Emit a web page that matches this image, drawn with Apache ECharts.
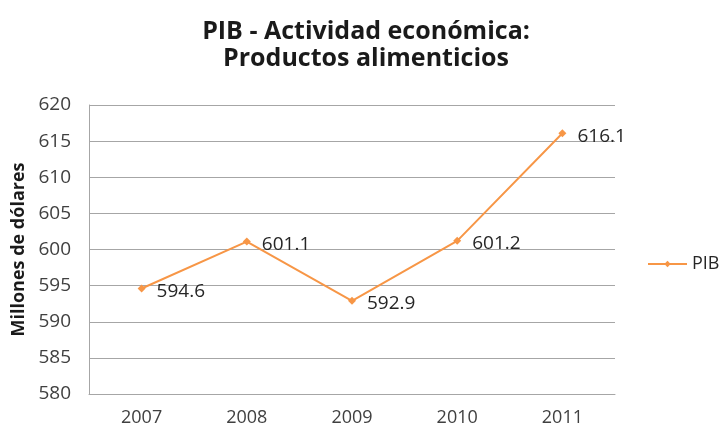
<!DOCTYPE html>
<html><head><meta charset="utf-8">
<script src="https://cdn.jsdelivr.net/npm/echarts@6/dist/echarts.min.js"></script>
<style>html,body{margin:0;padding:0;background:#fff}#c{width:721px;height:429px}</style>
</head><body><div id="c"></div>
<script>
const categories = ['2007','2008','2009','2010','2011'];
const pib = [594.6, 601.1, 592.9, 601.2, 616.1];
const chart = echarts.init(document.getElementById('c'));
chart.setOption({
  animation: false,
  title: {
    text: 'PIB - Actividad económica:\nProductos alimenticios',
    left: 361, top: 13, textAlign: 'center',
    textStyle: {fontFamily: 'Open Sans', fontWeight: 'bold', fontSize: 25, lineHeight: 27, color: '#1a1a1a'}
  },
  legend: {
    data: ['PIB'], left: 647, top: 255, padding: 0, itemWidth: 39, itemHeight: 8, itemGap: 4,
    textStyle: {fontFamily: 'Open Sans', fontSize: 18, color: '#262626'}
  },
  grid: {left: 89, right: 106, top: 105, bottom: 35, containLabel: false},
  xAxis: {
    type: 'category', data: categories, boundaryGap: true,
    axisLine: {lineStyle: {color: '#a6a6a6'}},
    axisTick: {show: false},
    axisLabel: {fontFamily: 'Open Sans', fontSize: 18, color: '#404040', margin: 15}
  },
  yAxis: {
    type: 'value', min: 580, max: 620, interval: 5,
    name: 'Millones de dólares', nameLocation: 'middle', nameGap: 60, nameRotate: 90,
    nameTextStyle: {fontFamily: 'Open Sans', fontWeight: 'bold', fontSize: 18, color: '#1a1a1a'},
    axisLine: {show: true, lineStyle: {color: '#a6a6a6'}},
    axisTick: {show: false},
    splitLine: {lineStyle: {color: '#a6a6a6'}},
    axisLabel: {fontFamily: 'Open Sans', fontSize: 19, color: '#404040', margin: 18}
  },
  series: [{
    name: 'PIB', type: 'line', data: pib,
    symbol: 'diamond', symbolSize: 8,
    lineStyle: {color: '#F79646', width: 2},
    itemStyle: {color: '#F79646'},
    label: {show: true, position: 'right', distance: 11, offset: [0, 3],
      fontFamily: 'Open Sans', fontSize: 19, color: '#262626',
      formatter: p => p.value.toFixed(1)}
  }]
});
</script></body></html>
